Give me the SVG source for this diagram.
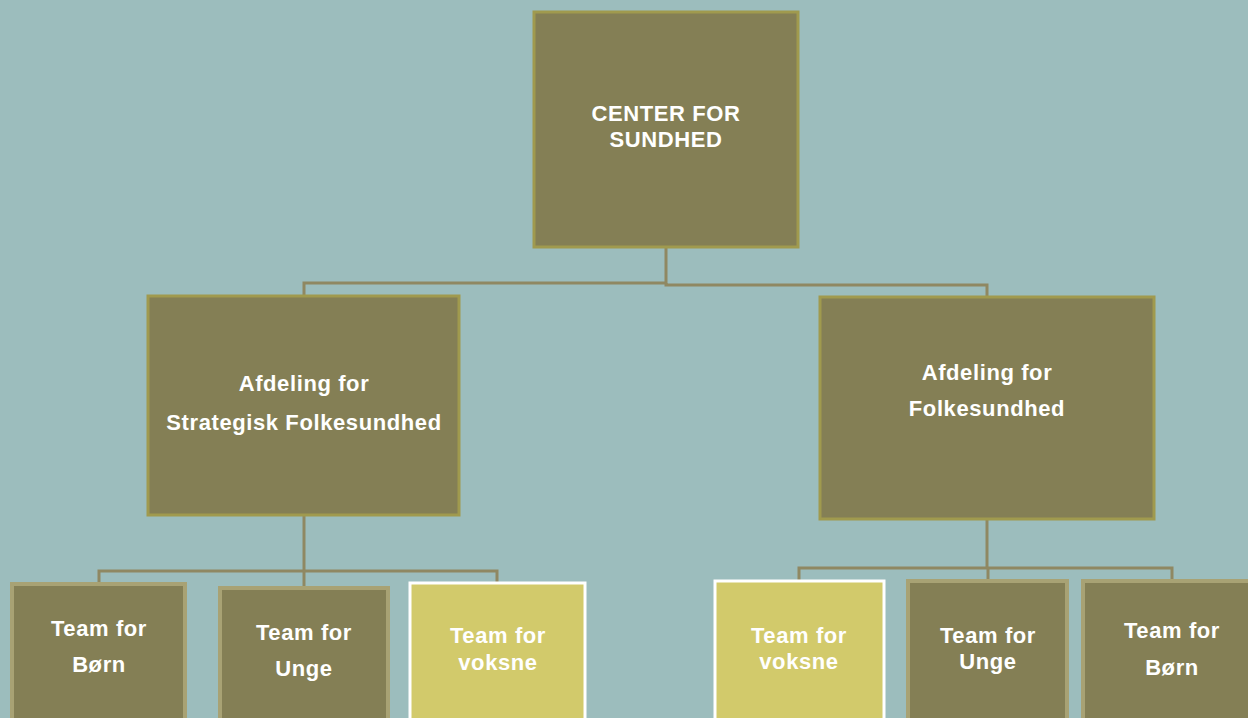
<svg xmlns="http://www.w3.org/2000/svg" width="1248" height="718" viewBox="0 0 1248 718">
<style>
.bg{fill:#9CBDBD}
.top{fill:#847F55;stroke:#A09A4E;stroke-width:3}
.team{fill:#847F55;stroke:#A8A274;stroke-width:4}
.hl{fill:#D2CA6B;stroke:#FFFFFF;stroke-width:3}
.con{fill:none;stroke:#8F8862;stroke-width:3}
text{font-family:"Liberation Sans",Arial,sans-serif;font-weight:bold;font-size:22px;fill:#FFFFFF;text-anchor:middle;letter-spacing:0.6px}
</style>
<rect class="bg" x="0" y="0" width="1248" height="718"/>
<g id="connectors">
<path class="con" d="M666 247 V283 H304 V296"/>
<path class="con" d="M666 283 V285 H987 V297"/>
<path class="con" d="M304 515 V571"/>
<path class="con" d="M99 584 V571 H497 V583"/>
<path class="con" d="M304 571 V588"/>
<path class="con" d="M987 519 V568"/>
<path class="con" d="M799 581 V568 H1172 V581"/>
<path class="con" d="M988 568 V581"/>
</g>
<g id="center">
<rect class="top" x="534" y="12" width="264" height="235"/>
<text x="666" y="121">CENTER FOR</text>
<text x="666" y="147">SUNDHED</text>
</g>
<g id="afd-strategisk">
<rect class="top" x="148" y="296" width="311" height="219"/>
<text x="304" y="391">Afdeling for</text>
<text x="304" y="430">Strategisk Folkesundhed</text>
</g>
<g id="afd-folkesundhed">
<rect class="top" x="820" y="297" width="334" height="222"/>
<text x="987" y="380">Afdeling for</text>
<text x="987" y="416">Folkesundhed</text>
</g>
<g id="l-boern">
<rect class="team" x="12" y="584" width="173" height="140"/>
<text x="99" y="636">Team for</text>
<text x="99" y="672">Børn</text>
</g>
<g id="l-unge">
<rect class="team" x="220" y="588" width="168" height="136"/>
<text x="304" y="640">Team for</text>
<text x="304" y="676">Unge</text>
</g>
<g id="l-voksne">
<rect class="hl" x="410" y="583" width="175" height="140"/>
<text x="498" y="643">Team for</text>
<text x="498" y="670">voksne</text>
</g>
<g id="r-voksne">
<rect class="hl" x="715" y="581" width="169" height="142"/>
<text x="799" y="643">Team for</text>
<text x="799" y="669">voksne</text>
</g>
<g id="r-unge">
<rect class="team" x="908" y="581" width="159" height="143"/>
<text x="988" y="643">Team for</text>
<text x="988" y="669">Unge</text>
</g>
<g id="r-boern">
<rect class="team" x="1083" y="581" width="175" height="143"/>
<text x="1172" y="638">Team for</text>
<text x="1172" y="675">Børn</text>
</g>
</svg>
